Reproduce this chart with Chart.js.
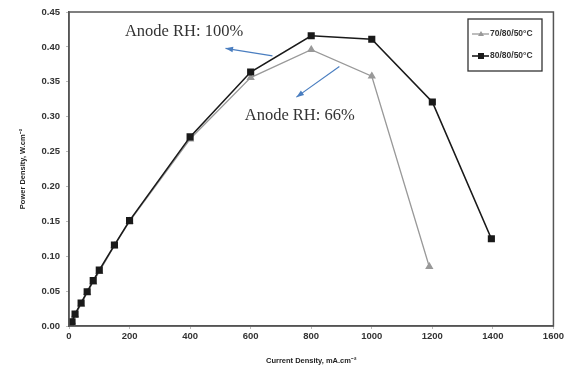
<!DOCTYPE html>
<html>
<head>
<meta charset="utf-8">
<script src="https://cdn.jsdelivr.net/npm/chart.js@4.4.1/dist/chart.umd.min.js"></script>
<style>
  html, body { margin: 0; padding: 0; background: #fff; }
  #wrap { width: 566px; height: 369px; }
</style>
</head>
<body>
<div id="wrap"><canvas id="pdChart" width="566" height="369"></canvas></div>
<script>
// current density (mA/cm2) and power density (W/cm2)
const currentA = [0, 5, 10, 20, 40, 60, 80, 100, 150, 200, 400, 600, 800, 1000, 1190];
const powerA   = [0, 0.003, 0.006, 0.016, 0.031, 0.048, 0.063, 0.078, 0.115, 0.150, 0.268, 0.356, 0.396, 0.358, 0.085];
const currentB = [0, 5, 10, 20, 40, 60, 80, 100, 150, 200, 400, 600, 800, 1000, 1200, 1395];
const powerB   = [0, 0.004, 0.006, 0.017, 0.033, 0.049, 0.065, 0.080, 0.116, 0.151, 0.271, 0.364, 0.416, 0.411, 0.321, 0.125];
const seriesLabels = ['70/80/50°C', '80/80/50°C'];
const xTicks = [0, 200, 400, 600, 800, 1000, 1200, 1400, 1600];
const yTicks = [0, 0.05, 0.10, 0.15, 0.20, 0.25, 0.30, 0.35, 0.40, 0.45];

// annotation text + arrows (data coordinates)
const notes = [
    { text: 'Anode RH: 100%', x: 380, y: 0.422, from: [672, 0.387], to: [517, 0.398] },
    { text: 'Anode RH: 66%',  x: 762, y: 0.301, from: [893, 0.372], to: [751, 0.328] }
];

const toXY = (xs, ys) => xs.map((x, i) => ({ x: x, y: ys[i] }));

// frame around the plot + the small legend box inside it
const framePlugin = {
    id: 'frame',
    afterDraw(chart) {
        const { ctx, chartArea: a } = chart;
        ctx.save();
        ctx.strokeStyle = '#555';
        ctx.lineWidth = 1.5;
        ctx.strokeRect(a.left, a.top, a.right - a.left, a.bottom - a.top);

        // legend box
        const lx = 468, ly = 19, lw = 74, lh = 52;
        ctx.lineWidth = 1.3;
        ctx.strokeStyle = '#333';
        ctx.strokeRect(lx, ly, lw, lh);
        ctx.font = 'bold 8.5px "Liberation Sans", Arial, sans-serif';
        ctx.textBaseline = 'middle';
        chart.data.datasets.forEach((ds, i) => {
            const yy = ly + 15 + i * 22;
            ctx.strokeStyle = ds.borderColor;
            ctx.lineWidth = ds.borderWidth;
            ctx.beginPath();
            ctx.moveTo(lx + 4, yy);
            ctx.lineTo(lx + 21, yy);
            ctx.stroke();
            ctx.fillStyle = ds.pointBackgroundColor;
            if (ds.pointStyle === 'rect') {
                ctx.fillRect(lx + 10, yy - 3, 6, 6);
            } else {
                ctx.beginPath();
                ctx.moveTo(lx + 13, yy - 3);
                ctx.lineTo(lx + 16, yy + 2);
                ctx.lineTo(lx + 10, yy + 2);
                ctx.closePath();
                ctx.fill();
            }
            ctx.fillStyle = '#333';
            ctx.fillText(ds.label, lx + 22, yy);
        });
        ctx.restore();
    }
};

const notesPlugin = {
    id: 'notes',
    afterDatasetsDraw(chart) {
        const { ctx, scales: { x, y } } = chart;
        ctx.save();
        notes.forEach(n => {
            const x1 = x.getPixelForValue(n.from[0]), y1 = y.getPixelForValue(n.from[1]);
            const x2 = x.getPixelForValue(n.to[0]),   y2 = y.getPixelForValue(n.to[1]);
            ctx.strokeStyle = '#4a7ec0';
            ctx.fillStyle = '#4a7ec0';
            ctx.lineWidth = 1.2;
            ctx.beginPath();
            ctx.moveTo(x1, y1);
            ctx.lineTo(x2, y2);
            ctx.stroke();
            const ang = Math.atan2(y2 - y1, x2 - x1);
            ctx.beginPath();
            ctx.moveTo(x2, y2);
            ctx.lineTo(x2 - 8 * Math.cos(ang - 0.35), y2 - 8 * Math.sin(ang - 0.35));
            ctx.lineTo(x2 - 8 * Math.cos(ang + 0.35), y2 - 8 * Math.sin(ang + 0.35));
            ctx.closePath();
            ctx.fill();

            ctx.fillStyle = '#333';
            ctx.font = '16.5px "Liberation Serif", "Times New Roman", serif';
            ctx.textAlign = 'center';
            ctx.textBaseline = 'middle';
            ctx.fillText(n.text, x.getPixelForValue(n.x), y.getPixelForValue(n.y));
        });
        ctx.restore();
    }
};

const tickFont = { family: '"Liberation Sans", Arial, sans-serif', size: 9.5, weight: 'bold' };
const titleFont = { family: '"Liberation Sans", Arial, sans-serif', size: 7.5, weight: 'bold' };

new Chart(document.getElementById('pdChart').getContext('2d'), {
    type: 'scatter',
    data: {
        datasets: [{
            label: seriesLabels[0],
            data: toXY(currentA, powerA),
            showLine: true,
            borderColor: '#999',
            borderWidth: 1.3,
            pointStyle: 'triangle',
            pointRadius: 3.5,
            pointBackgroundColor: '#999',
            pointBorderColor: '#999',
            order: 2
        }, {
            label: seriesLabels[1],
            data: toXY(currentB, powerB),
            showLine: true,
            borderColor: '#1a1a1a',
            borderWidth: 1.6,
            pointStyle: 'rect',
            pointRadius: 3.9,
            pointBackgroundColor: '#1a1a1a',
            pointBorderColor: '#1a1a1a',
            order: 1
        }]
    },
    options: {
        responsive: false,
        animation: false,
        layout: { padding: { top: 12, right: 11, left: 14, bottom: 0 } },
        scales: {
            x: {
                type: 'linear',
                min: 0,
                max: 1600,
                afterBuildTicks: s => { s.ticks = xTicks.map(v => ({ value: v })); },
                afterFit: s => { s.height = 43; },
                grid: { display: true, drawOnChartArea: false, tickLength: 3, color: '#bbb' },
                border: { display: true, color: '#555', width: 1.5 },
                ticks: { font: tickFont, color: '#333', padding: 2, maxRotation: 0, callback: v => String(v) },
                title: { display: true, text: 'Current Density, mA.cm⁻²', font: titleFont, color: '#222', padding: { top: 4 } }
            },
            y: {
                min: 0,
                max: 0.45,
                afterBuildTicks: s => { s.ticks = yTicks.map(v => ({ value: v })); },
                afterFit: s => { s.width = 55; },
                grid: { display: true, drawOnChartArea: false, tickLength: 3, color: '#bbb' },
                border: { display: true, color: '#555', width: 1.5 },
                ticks: { font: tickFont, color: '#333', padding: 6, callback: v => v.toFixed(2) },
                title: { display: true, text: 'Power Density, W.cm⁻²', font: titleFont, color: '#222', padding: { bottom: 5 } }
            }
        },
        plugins: {
            legend: { display: false },
            tooltip: { enabled: false }
        }
    },
    plugins: [framePlugin, notesPlugin]
});
</script>
</body>
</html>
